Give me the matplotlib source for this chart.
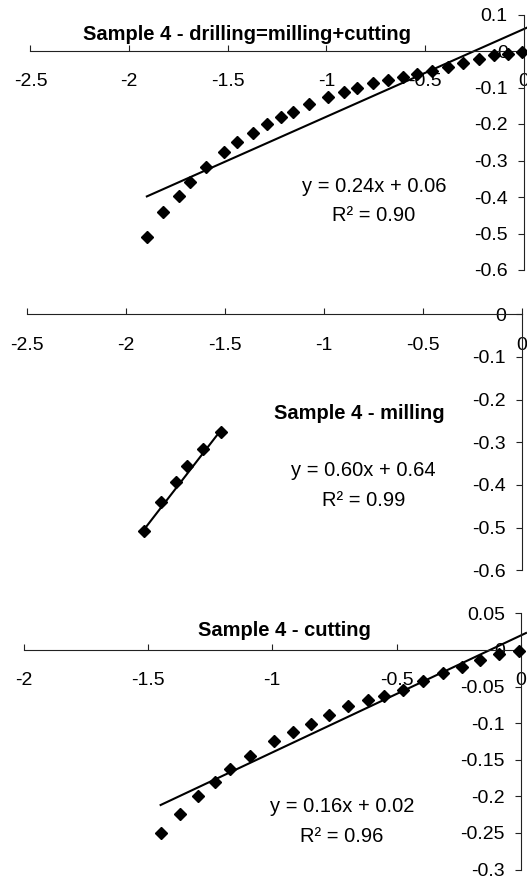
import matplotlib
matplotlib.use("Agg")
import matplotlib.pyplot as plt

plt.rcParams['font.family'] = ['Liberation Sans', 'DejaVu Sans']

# drilling = milling + cutting (all points)
drill_x = [-1.910, -1.826, -1.747, -1.691, -1.610, -1.519, -1.451, -1.370, -1.299,
           -1.230, -1.167, -1.086, -0.990, -0.909, -0.846, -0.762, -0.686, -0.610,
           -0.542, -0.466, -0.382, -0.306, -0.225, -0.150, -0.078, -0.010]
drill_y = [-0.510, -0.442, -0.396, -0.360, -0.317, -0.278, -0.250, -0.224, -0.200,
           -0.182, -0.166, -0.145, -0.125, -0.111, -0.100, -0.089, -0.079, -0.070,
           -0.063, -0.054, -0.045, -0.034, -0.023, -0.012, -0.008, -0.002]

mill_x = [-1.907, -1.820, -1.746, -1.689, -1.611, -1.518]
mill_y = [-0.509, -0.441, -0.394, -0.355, -0.316, -0.277]

cut_x = [-1.449, -1.371, -1.299, -1.231, -1.170, -1.090, -0.992, -0.916, -0.846, -0.771,
         -0.697, -0.614, -0.550, -0.473, -0.395, -0.315, -0.239, -0.165, -0.087, -0.008]
cut_y = [-0.250, -0.224, -0.200, -0.181, -0.163, -0.145, -0.125, -0.112, -0.101, -0.089,
         -0.077, -0.069, -0.063, -0.054, -0.042, -0.031, -0.023, -0.013, -0.005, -0.001]

# fitted trendlines (slope, intercept, R2) as printed
drill_fit = (0.24, 0.06, 0.90)
mill_fit = (0.60, 0.64, 0.99)
cut_fit = (0.16, 0.02, 0.96)

drill_yticks = [0.1, 0, -0.1, -0.2, -0.3, -0.4, -0.5, -0.6]
mill_yticks = [0, -0.1, -0.2, -0.3, -0.4, -0.5, -0.6]
cut_yticks = [0.05, 0, -0.05, -0.1, -0.15, -0.2, -0.25, -0.3]
drill_xticks = [-2.5, -2, -1.5, -1, -0.5, 0]
cut_xticks = [-2, -1.5, -1, -0.5, 0]

W, H = 527, 881
fig = plt.figure(figsize=(W / 100, H / 100), dpi=100)


def make_axes(x0_px, xscale, xlim, y0_px, yscale, ylim):
    # place axes so that data origin lands at the given pixel position
    left = x0_px + xlim[0] * xscale
    right = x0_px + xlim[1] * xscale
    top = y0_px - ylim[1] * yscale
    bottom = y0_px - ylim[0] * yscale
    ax = fig.add_axes([left / W, 1 - bottom / H, (right - left) / W, (bottom - top) / H])
    ax.set_xlim(*xlim)
    ax.set_ylim(*ylim)
    ax.patch.set_alpha(0)
    for s in ['top', 'right']:
        ax.spines[s].set_visible(False)
    ax.spines['left'].set_position(('data', 0))
    ax.spines['bottom'].set_position(('data', 0))
    for s in ['left', 'bottom']:
        ax.spines[s].set_linewidth(0.8)
        ax.spines[s].set_color('#222222')
    ax.tick_params(axis='x', direction='in', length=4, pad=16, labelsize=14,
                   color='#222222')
    ax.tick_params(axis='y', direction='out', length=4.5, pad=7, labelsize=14,
                   color='#222222')
    return ax


def fmt(v):
    return '%g' % v


def draw(ax, xs, ys, fit, line_x):
    ax.plot(xs, ys, linestyle='none', marker='D', markersize=6, color='black',
            zorder=3, clip_on=False)
    m, b, _ = fit
    ax.plot(line_x, [m * x + b for x in line_x], color='black', linewidth=1.5,
            zorder=2, clip_on=False)


# panel 1: drilling
ax1 = make_axes(523.7, 197.3, (-2.5, 0.0), 51, 365, (-0.6, 0.1))
draw(ax1, drill_x, drill_y, drill_fit, [min(drill_x), 0.02])
ax1.set_xticks(drill_xticks)
ax1.set_xticklabels([fmt(v) for v in drill_xticks])
ax1.set_yticks(drill_yticks)
ax1.set_yticklabels([fmt(v) for v in drill_yticks])
ax1.text(-1.4, 0.045, 'Sample 4 - drilling=milling+cutting', fontsize=14.5,
         fontweight='bold', ha='center', va='center')
ax1.text(-0.76, -0.372, 'y = %.2fx + %.2f' % drill_fit[:2], fontsize=14.5,
         ha='center', va='center')
ax1.text(-0.76, -0.452, 'R² = %.2f' % drill_fit[2], fontsize=14.5,
         ha='center', va='center')

# panel 2: milling
ax2 = make_axes(521.7, 198, (-2.5, 0.0), 314.3, 426.7, (-0.6, 0.0))
draw(ax2, mill_x, mill_y, mill_fit, [min(mill_x), max(mill_x)])
ax2.set_xticks(drill_xticks)
ax2.set_xticklabels([fmt(v) for v in drill_xticks])
ax2.set_yticks(mill_yticks)
ax2.set_yticklabels([fmt(v) for v in mill_yticks])
ax2.text(-0.82, -0.232, 'Sample 4 - milling', fontsize=14.5, fontweight='bold',
         ha='center', va='center')
ax2.text(-0.80, -0.366, 'y = %.2fx + %.2f' % mill_fit[:2], fontsize=14.5,
         ha='center', va='center')
ax2.text(-0.80, -0.436, 'R² = %.2f' % mill_fit[2], fontsize=14.5,
         ha='center', va='center')

# panel 3: cutting
ax3 = make_axes(521, 248.7, (-2.0, 0.0), 650, 731.7, (-0.3, 0.05))
draw(ax3, cut_x, cut_y, cut_fit, [min(cut_x), 0.02])
ax3.set_xticks(cut_xticks)
ax3.set_xticklabels([fmt(v) for v in cut_xticks])
ax3.set_yticks(cut_yticks)
ax3.set_yticklabels([fmt(v) for v in cut_yticks])
ax3.text(-0.95, 0.026, 'Sample 4 - cutting', fontsize=14.5, fontweight='bold',
         ha='center', va='center')
ax3.text(-0.72, -0.214, 'y = %.2fx + %.2f' % cut_fit[:2], fontsize=14.5,
         ha='center', va='center')
ax3.text(-0.72, -0.255, 'R² = %.2f' % cut_fit[2], fontsize=14.5,
         ha='center', va='center')

fig.savefig('out.png', dpi=100)
